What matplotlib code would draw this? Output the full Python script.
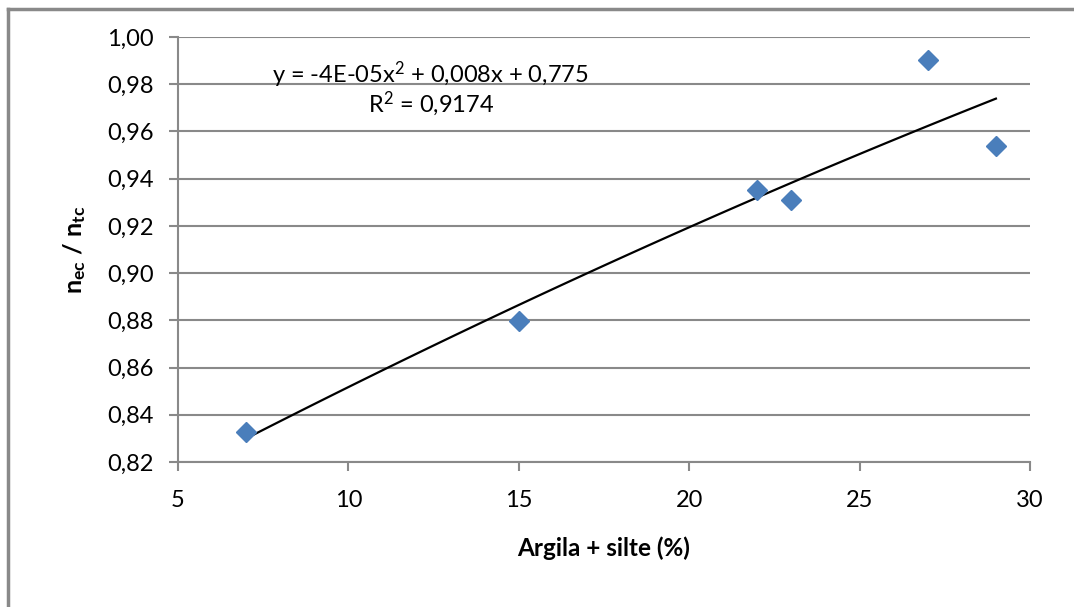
import numpy as np
import matplotlib
matplotlib.use("Agg")
from matplotlib import pyplot as plt
from matplotlib.lines import Line2D

plt.rcParams['font.family'] = ['Lato', 'DejaVu Sans']
plt.rcParams['mathtext.fontset'] = 'custom'
plt.rcParams['mathtext.rm'] = 'Lato'
plt.rcParams['mathtext.it'] = 'Lato'
plt.rcParams['mathtext.bf'] = 'Lato:bold'

# Données
argila_silte = [7, 15, 22, 23, 27, 29]
razao_n = [0.8327, 0.8797, 0.9352, 0.9311, 0.9903, 0.9540]
yticks = [0.82, 0.84, 0.86, 0.88, 0.90, 0.92, 0.94, 0.96, 0.98, 1.00]
xticks = [5, 10, 15, 20, 25, 30]

grey = '#898989'

fig = plt.figure(figsize=(10.74, 6.07), dpi=100)
ax = fig.add_axes([178/1074, 1-462/607, (1030-178)/1074, (462-37)/607])

# ligne de tendance polynomiale (ordre 2)
coef = np.polyfit(argila_silte, razao_n, 2)
xs = np.linspace(min(argila_silte), max(argila_silte), 100)
ax.plot(xs, np.polyval(coef, xs), color='black', lw=1.6, zorder=3)

ax.plot(argila_silte, razao_n, linestyle='none', marker='D', ms=10.5,
        color='#4a7ebb', markeredgecolor='#4a7ebb', zorder=4)

ax.set_xlim(5, 30)
ax.set_ylim(0.82, 1.00)
ax.set_xticks(xticks)
ax.set_yticks(yticks)
ax.set_xticklabels([str(v) for v in xticks])
ax.set_yticklabels([('%.2f' % v).replace('.', ',') for v in yticks])
ax.yaxis.grid(True, color=grey, lw=1.5)
ax.set_axisbelow(True)

for s in ['top', 'right']:
    ax.spines[s].set_visible(False)
for s in ['left', 'bottom']:
    ax.spines[s].set_color(grey)
    ax.spines[s].set_linewidth(1.5)
ax.tick_params(axis='both', colors=grey, labelcolor='black', labelsize=17,
               length=6.5, width=1.5)
ax.tick_params(axis='y', pad=11)
ax.tick_params(axis='x', pad=14)

ax.set_xlabel('Argila + silte (%)', fontsize=17.5, fontweight='bold', labelpad=18)
ax.set_ylabel(r'$\mathbf{n_{ec}}$ $\mathbf{/}$ $\mathbf{n_{tc}}$', fontsize=18, labelpad=14)

# équation et R² de la courbe de tendance
ax.text(0.296, 0.893, r'y = -4E-05x$^2$ + 0,008x + 0,775', transform=ax.transAxes,
        ha='center', va='baseline', fontsize=17)
ax.text(0.297, 0.823, r'R$^2$ = 0,9174', transform=ax.transAxes,
        ha='center', va='baseline', fontsize=17)

# cadre extérieur
fig.add_artist(Line2D([8/1074, 1], [1-9/607, 1-9/607], color=grey, lw=2.5, transform=fig.transFigure))
fig.add_artist(Line2D([8/1074, 8/1074], [0, 1-9/607], color=grey, lw=2.5, transform=fig.transFigure))

fig.savefig('out.png', dpi=100)
